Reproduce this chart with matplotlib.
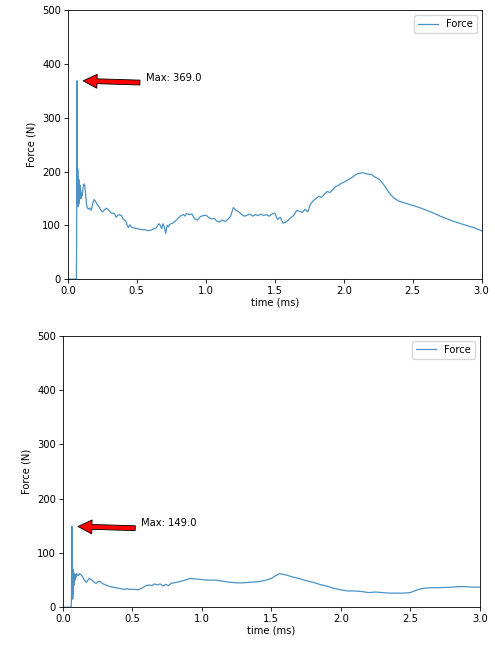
import matplotlib
matplotlib.use("Agg")
import matplotlib.pyplot as plt
import numpy as np

# top test: time (ms) and force (N)
time_a = [0.0, 0.055, 0.062, 0.064, 0.067, 0.070, 0.072, 0.074, 0.076, 0.078, 0.080, 0.082, 0.084,
          0.086, 0.088, 0.090, 0.093, 0.096, 0.10, 0.105, 0.11, 0.115, 0.12, 0.125, 0.13, 0.135, 0.14,
          0.15, 0.16, 0.17, 0.18, 0.19, 0.20, 0.21, 0.22, 0.23, 0.24, 0.25, 0.26, 0.27, 0.28, 0.29,
          0.30, 0.31, 0.32, 0.33, 0.34, 0.35, 0.36, 0.37, 0.38, 0.39, 0.40, 0.41, 0.42, 0.43, 0.44,
          0.45, 0.46, 0.47, 0.48, 0.50, 0.52, 0.54, 0.56, 0.58, 0.60, 0.62, 0.64, 0.66, 0.67, 0.68,
          0.69, 0.70, 0.71, 0.72, 0.73, 0.74, 0.76, 0.78, 0.80, 0.82, 0.84, 0.85, 0.86, 0.88, 0.90,
          0.92, 0.94, 0.96, 0.98, 1.00, 1.02, 1.04, 1.06, 1.08, 1.10, 1.12, 1.14, 1.16, 1.18, 1.20,
          1.22, 1.24, 1.26, 1.28, 1.30, 1.32, 1.34, 1.36, 1.38, 1.40, 1.42, 1.44, 1.46, 1.48, 1.50,
          1.52, 1.54, 1.56, 1.58, 1.60, 1.62, 1.64, 1.66, 1.68, 1.70, 1.72, 1.74, 1.76, 1.78, 1.80,
          1.82, 1.84, 1.86, 1.88, 1.90, 1.92, 1.94, 1.96, 1.98, 2.00, 2.02, 2.04, 2.06, 2.08, 2.10,
          2.12, 2.14, 2.16, 2.18, 2.20, 2.22, 2.24, 2.26, 2.28, 2.30, 2.32, 2.34, 2.36, 2.38, 2.40,
          2.45, 2.50, 2.55, 2.60, 2.65, 2.70, 2.75, 2.80, 2.85, 2.90, 2.95, 3.00]
force_a = [0, 0, 0, 75, 369, 140, 205, 135, 190, 150, 185, 140, 170,
           150, 175, 155, 165, 150, 160, 155, 170, 175, 177, 170, 155, 140, 133,
           130, 132, 128, 140, 148, 145, 140, 136, 133, 128, 125, 127, 130, 132, 130,
           127, 124, 122, 123, 121, 115, 118, 120, 119, 118, 112, 110, 108, 100, 96,
           101, 97, 96, 95, 94, 93, 92, 92, 90, 91, 93, 95, 103, 100, 94,
           103, 96, 85, 100, 97, 102, 104, 108, 113, 118, 120, 117, 122, 120, 121,
           112, 110, 116, 118, 119, 115, 112, 113, 108, 106, 110, 107, 111, 117, 133,
           128, 125, 120, 117, 119, 121, 117, 120, 118, 121, 118, 120, 117, 121, 123,
           111, 115, 104, 106, 110, 115, 119, 128, 126, 124, 130, 125, 140, 146, 150,
           154, 152, 158, 163, 161, 166, 172, 174, 178, 180, 183, 186, 189, 193, 196,
           197, 198, 196, 195, 195, 191, 188, 185, 179, 172, 164, 157, 152, 148, 145,
           141, 137, 133, 128, 123, 117, 112, 107, 103, 99, 95, 90]

# bottom test
time_b = [0.0, 0.055, 0.060, 0.062, 0.065, 0.067, 0.069, 0.071, 0.073, 0.075, 0.077, 0.079, 0.081,
          0.083, 0.085, 0.088, 0.09, 0.095, 0.10, 0.11, 0.12, 0.13, 0.14, 0.15, 0.16, 0.17, 0.18,
          0.19, 0.20, 0.21, 0.22, 0.23, 0.24, 0.25, 0.26, 0.27, 0.28, 0.29, 0.30, 0.32, 0.34, 0.36,
          0.38, 0.40, 0.42, 0.44, 0.46, 0.48, 0.50, 0.52, 0.54, 0.56, 0.58, 0.60, 0.62, 0.64, 0.66,
          0.68, 0.70, 0.72, 0.74, 0.76, 0.78, 0.80, 0.84, 0.88, 0.92, 0.96, 1.00, 1.05, 1.10, 1.15,
          1.20, 1.25, 1.30, 1.35, 1.40, 1.45, 1.50, 1.53, 1.56, 1.60, 1.65, 1.70, 1.75, 1.80, 1.85,
          1.90, 1.95, 2.00, 2.05, 2.10, 2.15, 2.20, 2.25, 2.30, 2.35, 2.40, 2.45, 2.50, 2.53, 2.56,
          2.60, 2.65, 2.70, 2.80, 2.85, 2.90, 2.95, 3.00]
force_b = [0, 0, 0, 20, 149, 40, 80, 15, 70, 25, 65, 40, 60,
           45, 62, 50, 60, 55, 62, 58, 62, 60, 57, 52, 48, 46, 50,
           53, 52, 50, 47, 45, 44, 46, 48, 47, 45, 43, 42, 40, 38, 37,
           36, 35, 34, 33, 34, 33, 33, 33, 32, 34, 37, 40, 41, 40, 43,
           41, 43, 39, 42, 40, 44, 45, 47, 50, 53, 52, 51, 50, 50, 48,
           46, 45, 45, 46, 47, 49, 53, 58, 62, 60, 56, 53, 49, 46, 42,
           39, 35, 32, 30, 30, 29, 27, 28, 27, 26, 26, 26, 27, 30, 33,
           35, 36, 36, 37, 38, 38, 37, 37]

FS = 7.2
plt.rcParams["font.size"] = FS


def force_panel(ax, t, f):
    ax.plot(t, f, color="#1f77b4", lw=0.9, alpha=0.8, label="Force")
    i = int(np.argmax(f))
    ax.annotate(f"Max: {f[i]:.1f}", xy=(t[i] + 0.02, f[i]), xytext=(t[i] + 0.5, f[i]),
                fontsize=FS,
                arrowprops=dict(facecolor="red", edgecolor="black", lw=0.6,
                                width=3.5, headwidth=10, headlength=10, shrink=0.05))
    ax.set_xlim(0, 3.0)
    ax.set_ylim(0, 500)
    ax.set_xlabel("time (ms)", labelpad=1)
    ax.set_ylabel("Force (N)")
    ax.tick_params(labelsize=FS, length=3, width=0.6, pad=2)
    for s in ax.spines.values():
        s.set_linewidth(0.6)
    ax.legend(loc="upper right", fontsize=FS)


fig = plt.figure(figsize=(4.95, 6.46), dpi=100)
ax1 = fig.add_axes([0.137, 0.568, 0.836, 0.416])
ax2 = fig.add_axes([0.127, 0.060, 0.842, 0.420])
force_panel(ax1, time_a, force_a)
force_panel(ax2, time_b, force_b)
fig.savefig("out.png", dpi=100)
